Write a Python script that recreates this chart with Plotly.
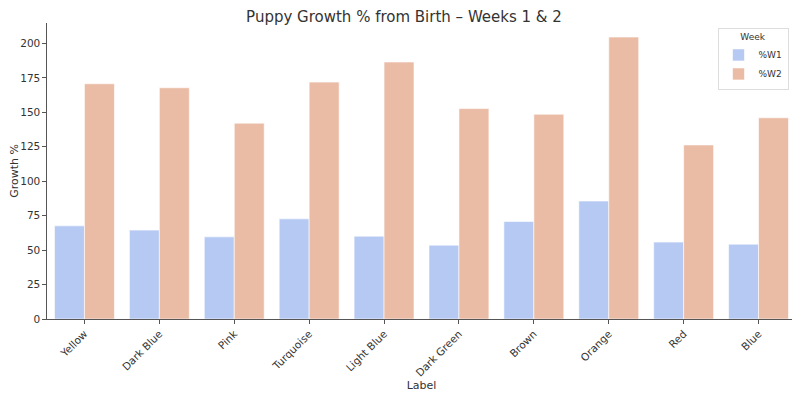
import plotly.graph_objects as go

labels = ["Yellow", "Dark Blue", "Pink", "Turquoise", "Light Blue",
          "Dark Green", "Brown", "Orange", "Red", "Blue"]
w1 = [67.6, 64.5, 59.6, 72.7, 60.1, 53.6, 70.8, 85.6, 55.8, 54.3]
w2 = [170.7, 167.8, 142.1, 171.9, 186.5, 152.7, 148.6, 204.6, 126.3, 146.0]
series_names = ["%W1", "%W2"]
colors = ["#b5c9f2", "#eabba5"]

fig = go.Figure()
for name, vals, col in zip(series_names, [w1, w2], colors):
    fig.add_trace(go.Bar(x=labels, y=vals, name=name,
                         marker=dict(color=col, line=dict(color="white", width=0.6))))

font = "DejaVu Sans"
# page body has an 8px margin, so the figure is 8px smaller on each axis
fig.update_layout(
    width=792, height=389,
    barmode="group", bargap=0.2, bargroupgap=0,
    plot_bgcolor="white", paper_bgcolor="white",
    margin=dict(l=38.5, r=3.5, t=15.4, b=78.3, autoexpand=False),
    font=dict(family=font, size=10.5, color="#333333"),
    title=dict(text="Puppy Growth % from Birth – Weeks 1 & 2", x=0.5, xanchor="center",
               y=0.99, yanchor="top", font=dict(size=15, color="#333333")),
    legend=dict(title=dict(text="Week", side="top center", font=dict(size=9)),
                x=0.99, xanchor="right", y=0.984, yanchor="top",
                bordercolor="#dddddd", borderwidth=1, bgcolor="rgba(255,255,255,0.8)",
                font=dict(size=9), itemwidth=30, tracegroupgap=0),
    xaxis=dict(title=dict(text="Label", font=dict(size=11), standoff=0),
               automargin=False,
               tickangle=-45, showline=True, linecolor="#555555", linewidth=1.3,
               ticks="outside", ticklen=3.5, tickcolor="#555555", showgrid=False,
               range=[-0.5, 9.5], tickfont=dict(size=10.5)),
    yaxis=dict(title=dict(text="Growth %", font=dict(size=11), standoff=8),
               automargin=False,
               range=[0, 214.8], tickvals=[0, 25, 50, 75, 100, 125, 150, 175, 200],
               showline=True, linecolor="#555555", linewidth=1.3,
               ticks="outside", ticklen=3.5, tickcolor="#555555", showgrid=False,
               zeroline=False, tickfont=dict(size=10.5)),
)

fig.write_html("out.html")
